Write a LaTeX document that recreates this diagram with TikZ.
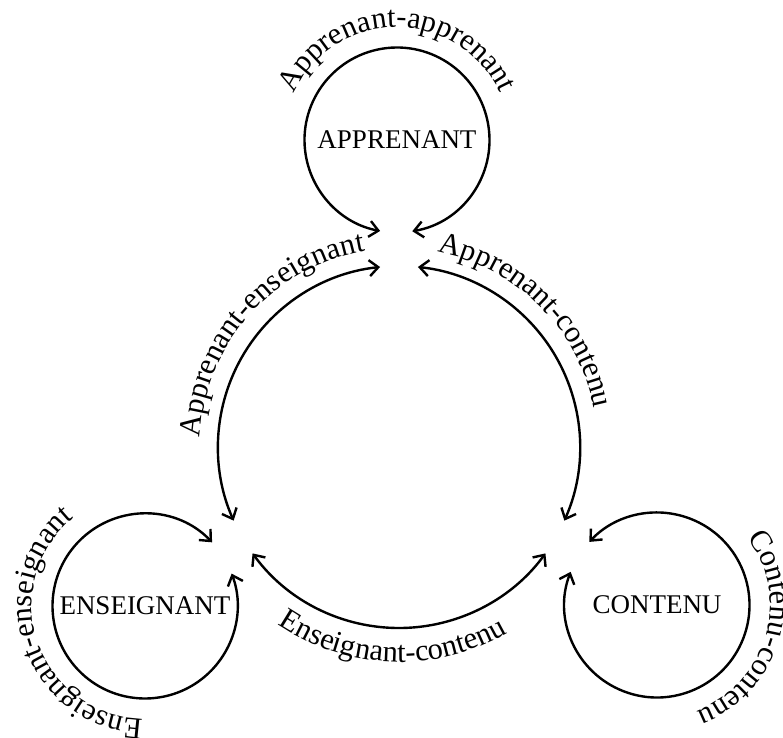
\documentclass[tikz,border=0pt]{standalone}
\usepackage{fontspec}
\setmainfont{Liberation Serif}
\usetikzlibrary{arrows.meta,decorations.text}
\newcommand\mycapfont{\fontsize{27}{27}\selectfont}
\newcommand\mycurvefont{\fontsize{30.5}{30.5}\selectfont}
\begin{document}
\begin{tikzpicture}[x=1pt,y=1pt,
  link/.style={line width=2.4pt,{Straight Barb[length=9pt,width=16pt]}-{Straight Barb[length=9pt,width=16pt]}},
  actor/.style={font=\mycapfont, inner sep=0pt},
]
\useasboundingbox (-399,-290) rectangle (384,447);
\coordinate (O) at (0,0);
\coordinate (cA) at (-2,307);
\coordinate (cE) at (-254,-159);
\coordinate (cC) at (258,-158);
\node[actor] (app) at (cA) {APPRENANT};
\node[actor] (ens) at (cE) {ENSEIGNANT};
\node[actor] (con) at (cC) {CONTENU};
% self loops
\draw[link] (cA) ++(-80.5:92.5) arc[start angle=-80.5, end angle=259.5, radius=92.5];
\draw[link] (cE) ++(43.5:92.5) arc[start angle=43.5, end angle=380.5, radius=92.5];
\draw[link] (cC) ++(159:92.5) arc[start angle=159, end angle=497, radius=92.5];
% big circle
\draw[link] (O) ++(96:181) arc[start angle=96, end angle=204, radius=181];
\draw[link] (O) ++(216:181) arc[start angle=216, end angle=324, radius=181];
\draw[link] (O) ++(-24:181) arc[start angle=-24, end angle=84, radius=181];
% curved labels
\path[decorate, decoration={text along path, text align=center, text={|\mycurvefont|Apprenant-apprenant}}]
  (cA) ++(175:113) arc[start angle=175, end angle=5, radius=113];
\path[decorate, decoration={text along path, text align=center, text={|\mycurvefont|Enseignant-enseignant}}]
  (cE) ++(284:113) arc[start angle=284, end angle=114, radius=113];
\path[decorate, decoration={text along path, text align=center, text={|\mycurvefont|Contenu-contenu}}]
  (cC) ++(68.5:113) arc[start angle=68.5, end angle=-101.5, radius=113];
\path[decorate, decoration={text along path, text align=center, text={|\mycurvefont|Apprenant-enseignant}}]
  (O) ++(200:199) arc[start angle=200, end angle=77, radius=199];
\path[decorate, decoration={text along path, text align=center, text={|\mycurvefont|Apprenant-contenu}}]
  (O) ++(107:199) arc[start angle=107, end angle=-17, radius=199];
\path[decorate, decoration={text along path, text align=center, text={|\mycurvefont|Enseignant-contenu}}]
  (O) ++(208:215) arc[start angle=208, end angle=328, radius=215];
\end{tikzpicture}
\end{document}
